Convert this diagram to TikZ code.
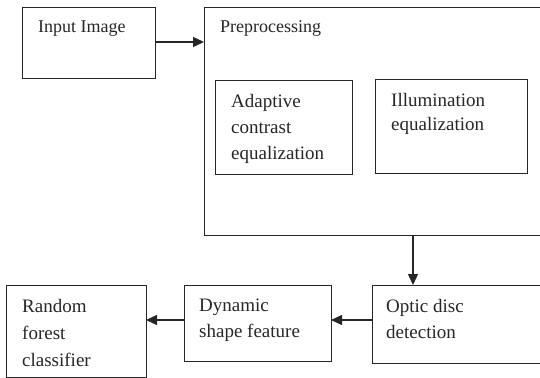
\documentclass[tikz,border=0pt]{standalone}
\usepackage{fontspec}
\setmainfont{Liberation Serif}
\usetikzlibrary{arrows.meta}
\tikzset{
  box/.style={draw=black!85, line width=1.3pt, anchor=north west, inner sep=0pt},
  % multi-line labels are placed by the top of their first line
  lbl/.style={anchor=north west, align=left, inner sep=0pt, text=black!85,
              font=\fontsize{19}{26}\selectfont},
  toplbl/.style={anchor=base west, inner sep=0pt, text=black!85,
                 font=\fontsize{18}{22}\selectfont},
  flow/.style={draw=black!85, line width=1.3pt,
               -{Triangle[length=11pt,width=10pt]}}
}
\begin{document}
\begin{tikzpicture}[x=1pt,y=-1pt]
\useasboundingbox (0,0) rectangle (540,377);
% top row
\node[box, minimum width=133pt, minimum height=71pt] (inp) at (22,7) {};
\node[toplbl] (inpT) at (38,33) {Input Image};
\node[box, minimum width=345pt, minimum height=228pt] (pre) at (204,7) {};
\node[toplbl] (preT) at (220,33) {Preprocessing};
% inner preprocessing steps
\node[box, minimum width=137pt, minimum height=94pt] (ace) at (215,80) {};
\node[lbl] (aceT) at (231,94) {Adaptive\\contrast\\equalization};
\node[box, minimum width=152pt, minimum height=94pt] (ill) at (375,79) {};
\node[lbl, font=\fontsize{19}{24}\selectfont] (illT) at (391,93) {Illumination\\equalization};
% bottom row
\node[box, minimum width=140pt, minimum height=92pt] (rf) at (6,285) {};
\node[lbl, font=\fontsize{19}{27}\selectfont] (rfT) at (22,299) {Random\\forest\\classifier};
\node[box, minimum width=147pt, minimum height=76pt] (dsf) at (184,285) {};
\node[lbl] (dsfT) at (199,299) {Dynamic\\shape feature};
\node[box, minimum width=180pt, minimum height=78pt] (od) at (372,285) {};
\node[lbl] (odT) at (386,299) {Optic disc\\detection};
% connectors
\coordinate (a1) at (155,42);
\coordinate (a2) at (204,42);
\draw[flow] (a1) -- (a2);
\coordinate (d1) at (413,235);
\coordinate (d2) at (413,285);
\draw[flow] (d1) -- (d2);
\coordinate (h1) at (372,320);
\coordinate (h2) at (331,320);
\draw[flow] (h1) -- (h2);
\coordinate (h3) at (184,320);
\coordinate (h4) at (146,320);
\draw[flow] (h3) -- (h4);
\end{tikzpicture}
\end{document}
